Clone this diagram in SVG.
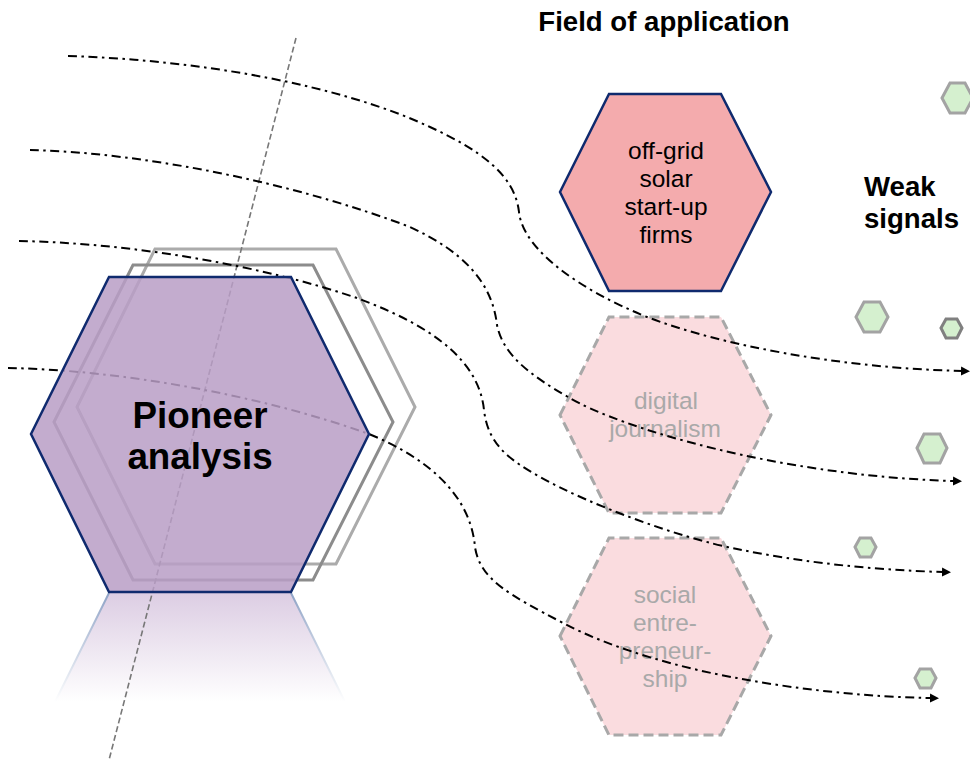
<svg xmlns="http://www.w3.org/2000/svg" width="970" height="760" viewBox="0 0 970 760">
<style>
text{font-family:"Liberation Sans",Arial,sans-serif;text-anchor:middle}
.flow{fill:none;stroke:#000;stroke-width:2;stroke-dasharray:9 4.5 2.5 4.5;marker-end:url(#ah)}
.axis{fill:none;stroke:#777;stroke-width:1.6;stroke-dasharray:6 3}
.shell{fill:none;stroke-width:3}
.dim{fill:#fadcdf;stroke:#a8a8a8;stroke-width:3;stroke-dasharray:10 5}
.dimt{font-size:24.5px;fill:#a9a9a9}
.sig{fill:#d5f0cf;stroke-width:3}
.hd{font-weight:bold;font-size:27.6px;fill:#000}
.bt{font-size:24.5px;fill:#000}
.pn{font-size:36.8px;font-weight:bold;fill:#000}
</style>
<defs>
<marker id="ah" markerWidth="10" markerHeight="10" refX="1" refY="4.5" orient="auto" markerUnits="userSpaceOnUse"><path d="M0 0L9 4.5L0 9Z" fill="#000"/></marker>
<linearGradient id="rf" x1="0" y1="0" x2="0" y2="1"><stop offset="0" stop-color="#dccde3"/><stop offset="1" stop-color="#fff"/></linearGradient>
<linearGradient id="re" gradientUnits="userSpaceOnUse" x1="0" y1="593" x2="0" y2="702"><stop offset="0" stop-color="#8fa3c6"/><stop offset="1" stop-color="#fff"/></linearGradient>
</defs>
<g id="reflection">
<path d="M109 593H291L345 702H55Z" fill="url(#rf)"/>
<path d="M109 593L55 702M291 593L345 702" fill="none" stroke="url(#re)" stroke-width="2"/>
</g>
<g id="shell-outer"><path class="shell" stroke="#ababab" d="M77 407L155 249H336L415 407L336 564H155Z"/></g>
<g id="shell-inner"><path class="shell" stroke="#8c8c8c" d="M54 422L133 265H313L393 422L313 580H133Z"/></g>
<g id="offgrid">
<path d="M560 192L609 94H721L771 192L721 291H609Z" fill="#f4abad" stroke="#0f2a6e" stroke-width="2.5"/>
<text class="bt" x="666" y="159">off-grid</text>
<text class="bt" x="666" y="187">solar</text>
<text class="bt" x="666" y="215">start-up</text>
<text class="bt" x="666" y="243">firms</text>
</g>
<g id="digital">
<path class="dim" d="M560 415L609 317H721L771 415L721 513H609Z"/>
<text class="dimt" x="666" y="409">digital</text>
<text class="dimt" x="665" y="437">journalism</text>
</g>
<g id="social">
<path class="dim" d="M560 636L609 538H721L771 636L721 735H609Z"/>
<text class="dimt" x="665" y="603">social</text>
<text class="dimt" x="665" y="631">entre-</text>
<text class="dimt" x="665" y="659">preneur-</text>
<text class="dimt" x="665" y="687">ship</text>
</g>
<g id="connectors">
<path class="axis" d="M296 38L109 760"/>
<path class="flow" d="M68 56C200 60 340 85 430 127C480 150 515 175 519 212C523 250 580 290 647 317C720 345 840 368 962 371"/>
<path class="flow" d="M30 150C150 153 300 185 410 227C460 250 492 280 497 325C503 355 530 375 568 397C620 428 780 476 954 481"/>
<path class="flow" d="M19 241C130 243 260 265 357 298C410 318 478 350 484 410C488 445 510 460 540 477C590 505 680 538 737 549C800 562 870 570 943 572"/>
<path class="flow" d="M8 368C120 370 260 395 369 434C420 455 470 490 475 547C480 580 510 595 563 623C610 648 680 668 737 678C800 690 870 697 931 698"/>
</g>
<g id="pioneer">
<path d="M31 434L109 277H291L369 434L291 592H109Z" fill="#b99ec5" fill-opacity=".85" stroke="#0f2a6e" stroke-width="2.5"/>
<text class="pn" x="200" y="428">Pioneer</text>
<text class="pn" x="200" y="469">analysis</text>
</g>
<g id="title"><text class="hd" x="664" y="31">Field of application</text></g>
<g id="weak-signals-label">
<text class="hd" x="864" y="196" style="text-anchor:start">Weak</text>
<text class="hd" x="864" y="228" style="text-anchor:start">signals</text>
</g>
<g id="signal-1"><path class="sig" stroke="#a3a3a3" d="M942 98L950 83H965L973 98L965 113H950Z"/></g>
<g id="signal-2"><path class="sig" stroke="#a3a3a3" d="M856 317L864 302H880L888 317L880 332H864Z"/></g>
<g id="signal-3"><path class="sig" stroke="#808080" d="M941 328L946 319H957L962 328L957 338H946Z"/></g>
<g id="signal-4"><path class="sig" stroke="#a3a3a3" d="M917 448L924 434H940L947 448L940 463H924Z"/></g>
<g id="signal-5"><path class="sig" stroke="#a3a3a3" d="M855 547L860 538H871L876 547L871 557H860Z"/></g>
<g id="signal-6"><path class="sig" stroke="#a3a3a3" d="M915 678L920 669H931L936 678L931 688H920Z"/></g>
</svg>
